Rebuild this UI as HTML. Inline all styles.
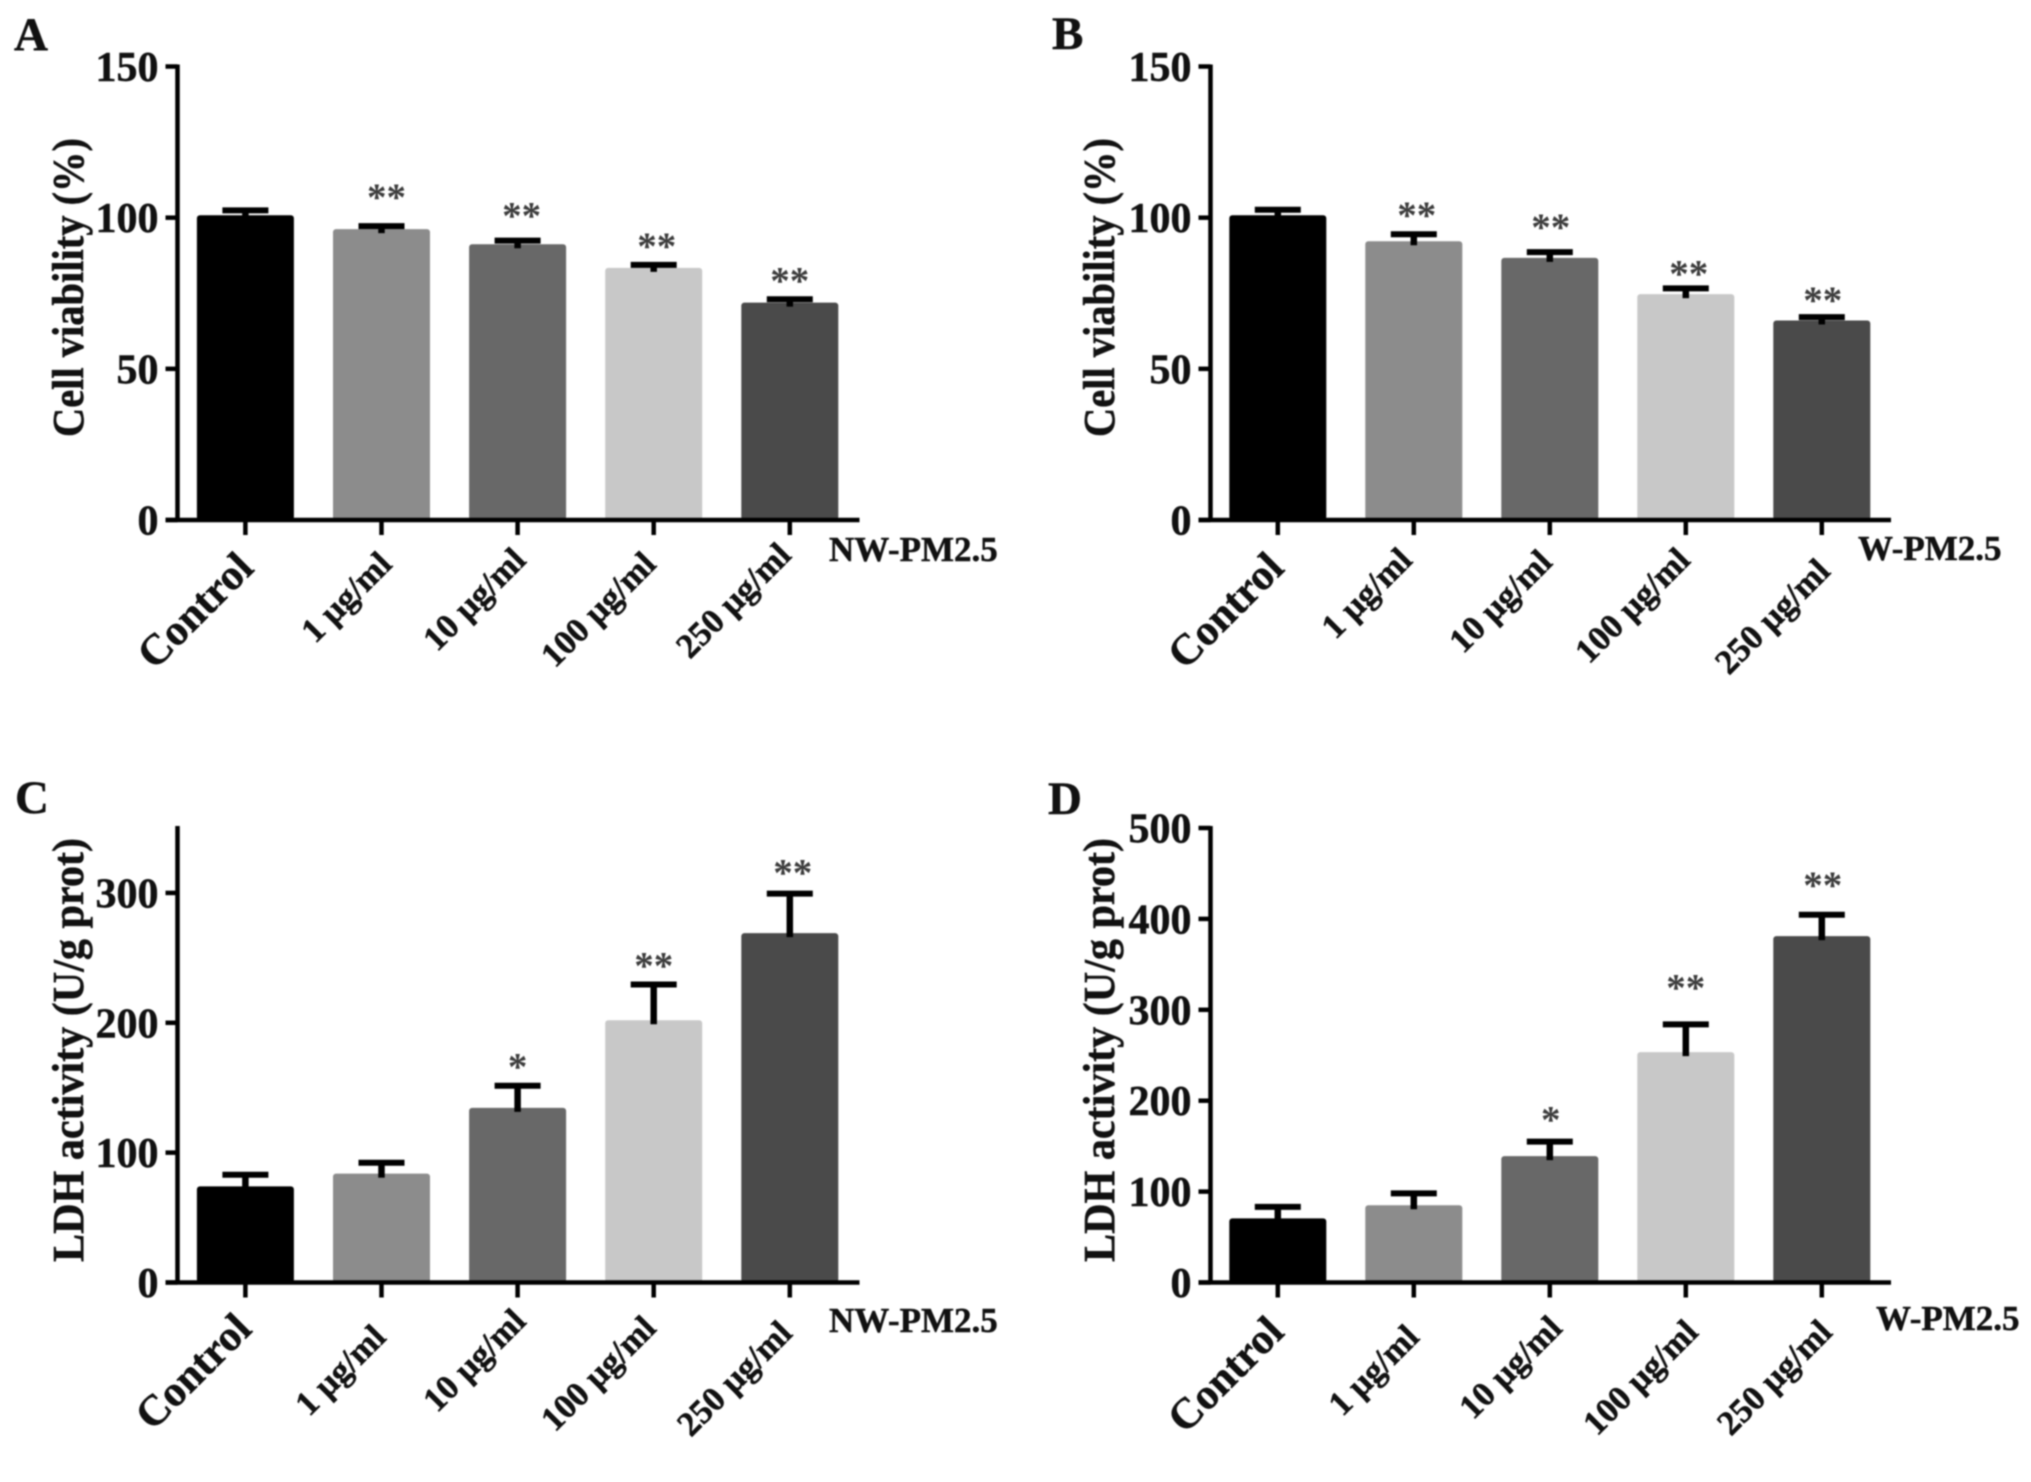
<!DOCTYPE html>
<html lang="en">
<head>
<meta charset="utf-8">
<title>Cell viability and LDH activity</title>
<style>
html,body{margin:0;padding:0;background:#fff;width:2031px;height:1482px;overflow:hidden}
svg{display:block;filter:blur(0.8px)}
text{font-family:"Liberation Serif",serif;font-weight:bold;fill:#111;stroke:#111;stroke-width:0.5px}
</style>
</head>
<body>
<svg id="figure" xmlns="http://www.w3.org/2000/svg" width="2031" height="1482" viewBox="0 0 2031 1482"></svg>
<script>
// ---- data ----
const categories = ['Control', '1 µg/ml', '10 µg/ml', '100 µg/ml', '250 µg/ml'];
const barColors = ['#000000', '#8c8c8c', '#686868', '#c8c8c8', '#4a4a4a'];

const viabilityTicks = [0, 50, 100, 150];
const ldhTicksC = [0, 100, 200, 300];
const ldhTicksD = [0, 100, 200, 300, 400, 500];

const panelAMeans = [100.8, 96.2, 91.2, 83.4, 71.9];
const panelAUpper = [102.4, 97.2, 92.4, 84.4, 73];
const panelASig = ['', '**', '**', '**', '**'];

const panelBMeans = [100.8, 92.2, 86.7, 74.7, 66];
const panelBUpper = [102.6, 94.5, 88.6, 76.6, 67.1];
const panelBSig = ['', '**', '**', '**', '**'];

const panelCMeans = [74, 83.8, 134.5, 202, 269];
const panelCUpper = [83, 92.2, 151.5, 229.5, 299.5];
const panelCSig = ['', '', '*', '**', '**'];

const panelDMeans = [70.5, 85, 139, 253.5, 381];
const panelDUpper = [83.2, 98, 155, 284, 404.5];
const panelDSig = ['', '', '*', '**', '**'];

// ---- layout, per panel ----
const layoutA = {letter:'A', letterX:14, letterY:50, axisX:177.5, top:66.5, base:520, yMax:150, x0:245.4, step:136.1, axisEnd:859.5,
  title:'Cell viability (%)', titleX:83, titleMid:287.5, titleLen:299, treat:'NW-PM2.5', treatX:829, treatY:561,
  labelDx:[10,12,10,4,3], labelY:[570,566,562,566,557], starGap:[0,34,30,24,24], starDx:[0,5,4,3,0]};
const layoutB = {letter:'B', letterX:1052, letterY:49, axisX:1210.5, top:66.5, base:520, yMax:150, x0:1277.8, step:136,axisEnd:1891,
  title:'Cell viability (%)', titleX:1114, titleMid:287.5, titleLen:299, treat:'W-PM2.5', treatX:1858, treatY:560,
  labelDx:[8,0,4,6,10], labelY:[570,562,564,562,573], starGap:[0,24.5,30,20,22], starDx:[0,3,1,3,1]};
const layoutC = {letter:'C', letterX:15, letterY:813, axisX:177.5, top:828, base:1282.5, yMax:350, x0:245.4, step:136.1, axisEnd:859.5,
  title:'LDH activity (U/g prot)', titleX:83, titleMid:1050, titleLen:424, treat:'NW-PM2.5', treatX:829, treatY:1332,
  labelDx:[8,6,10,4,4], labelY:[1331,1339,1323,1330,1335], starGap:[0,0,24.5,24,26], starDx:[0,0,0,0,3]};
const layoutD = {letter:'D', letterX:1048, letterY:814, axisX:1210.5, top:828, base:1282.5, yMax:500, x0:1277.8, step:136, axisEnd:1891,
  title:'LDH activity (U/g prot)', titleX:1114, titleMid:1050, titleLen:424, treat:'W-PM2.5', treatX:1876, treatY:1330,
  labelDx:[8,7,14,14,12], labelY:[1334,1339,1330,1334,1334], starGap:[0,0,27,42,35], starDx:[0,0,1,0,1]};

const NS = 'http://www.w3.org/2000/svg';
const figure = document.getElementById('figure');

function make(parent, tag, attrs, content) {
  const el = document.createElementNS(NS, tag);
  for (const k in attrs) el.setAttribute(k, attrs[k]);
  if (content !== undefined) el.textContent = content;
  parent.appendChild(el);
  return el;
}

function drawPanel(key, layout, means, upper, sig, ticks) {
  const yScale = v => layout.base - (v / layout.yMax) * (layout.base - layout.top);
  const xScale = i => layout.x0 + i * layout.step;

  const g = make(figure, 'g', {});
  
  

  const letter = make(g, 'text', {x: layout.letterX, y: layout.letterY, 'font-size': 47}, layout.letter);
  
  

  categories.forEach((cat, i) => {
    const cx = xScale(i);
    const topY = yScale(means[i]);
    const bar = make(g, 'rect', {x: cx - 48.5, y: topY, width: 97, height: layout.base - topY, rx: 3, fill: barColors[i]});
    
    

    const capY = yScale(upper[i]);
    const stem = make(g, 'line', {x1: cx, x2: cx, y1: capY, y2: topY + 4, stroke: '#000', 'stroke-width': 6.5});
    
    

    const cap = make(g, 'line', {x1: cx - 23, x2: cx + 23, y1: capY, y2: capY, stroke: '#000', 'stroke-width': 6});
    
    

    if (sig[i]) {
      const star = make(g, 'text', {x: cx + layout.starDx[i], y: capY - layout.starGap[i] + 18, 'font-size': 39, 'text-anchor': 'middle', style: 'font-weight:bold;fill:#3c3c3c;stroke:none'}, sig[i]);
      
      
    }

    const tick = make(g, 'line', {x1: cx, x2: cx, y1: layout.base, y2: layout.base + 15, stroke: '#000', 'stroke-width': 4.5});
    
    

    const lx = cx + layout.labelDx[i];
    const ly = layout.labelY[i];
    const label = make(g, 'text', {x: lx, y: ly, 'font-size': i === 0 ? 43 : 34.5, 'text-anchor': 'end', transform: 'rotate(-45 ' + lx + ' ' + ly + ')'}, cat);
    
    
  });

  const yAxis = make(g, 'line', {x1: layout.axisX, x2: layout.axisX, y1: layout.top - 2, y2: layout.base + 2, stroke: '#000', 'stroke-width': 4.5});
  
  

  const xAxis = make(g, 'line', {x1: layout.axisX - 12, x2: layout.axisEnd, y1: layout.base, y2: layout.base, stroke: '#000', 'stroke-width': 4.5});
  
  

  ticks.forEach(t => {
    const ty = yScale(t);
    const tk = make(g, 'line', {x1: layout.axisX - 12, x2: layout.axisX, y1: ty, y2: ty, stroke: '#000', 'stroke-width': 4.5});
    
    

    const str = String(t);
    const tl = make(g, 'text', {x: layout.axisX - 19, y: ty + 14.5, 'font-size': 42, 'text-anchor': 'end'}, str);
    
    
  });

  const title = make(g, 'text', {x: layout.titleX, y: layout.titleMid, 'font-size': 44, 'text-anchor': 'middle', textLength: layout.titleLen, lengthAdjust: 'spacingAndGlyphs', transform: 'rotate(-90 ' + layout.titleX + ' ' + layout.titleMid + ')'}, layout.title);
  
  

  const treat = make(g, 'text', {x: layout.treatX, y: layout.treatY, 'font-size': 35}, layout.treat);
  
  
}

drawPanel('a', layoutA, panelAMeans, panelAUpper, panelASig, viabilityTicks);
drawPanel('b', layoutB, panelBMeans, panelBUpper, panelBSig, viabilityTicks);
drawPanel('c', layoutC, panelCMeans, panelCUpper, panelCSig, ldhTicksC);
drawPanel('d', layoutD, panelDMeans, panelDUpper, panelDSig, ldhTicksD);
</script>
</body>
</html>
